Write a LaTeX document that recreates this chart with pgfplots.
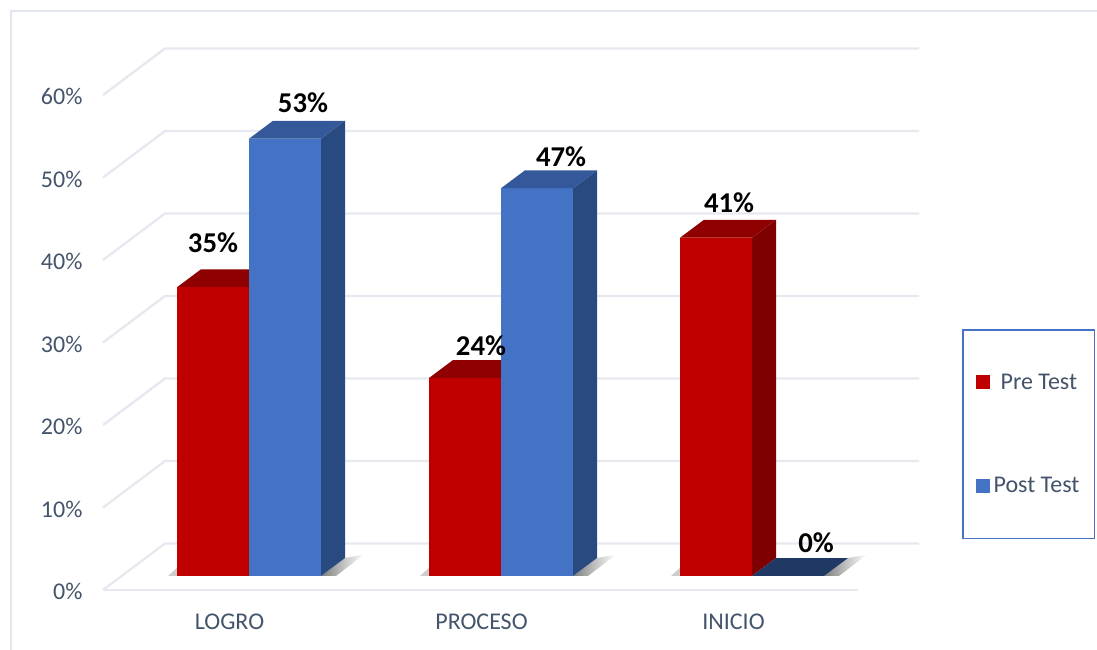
\documentclass[border=0pt]{standalone}
\usepackage{pgfplots}
\pgfplotsset{compat=1.18}
\usepackage{fontspec}
\setmainfont{Carlito}

\definecolor{txt}{HTML}{44546A}
\definecolor{wall}{HTML}{E7E9F1}
\definecolor{framec}{HTML}{E2E6EE}
\definecolor{redfront}{HTML}{C00000}
\definecolor{redtop}{HTML}{8F0000}
\definecolor{redside}{HTML}{7F0000}
\definecolor{bluefront}{HTML}{4472C4}
\definecolor{bluetop}{HTML}{35589A}
\definecolor{blueside}{HTML}{294A80}
\definecolor{bluezero}{HTML}{1F3864}

% x runs in reference pixels, y in percent (8.25 px per 1%, 0% of the bars at px 576)
\pgfplotsset{
  face/.style={draw=none, fill=#1, forget plot},
  shadow/.style={draw=none, left color=black!50, right color=white, forget plot}
}

\begin{document}
\begin{tikzpicture}[x=1pt,y=1pt]
\path[use as bounding box] (0,0) rectangle (1097,650);
\begin{axis}[
  at={(88pt,49.25pt)}, anchor=south west,
  scale only axis, width=1009pt, height=600.6pt,
  xmin=88, xmax=1097, ymin=-3, ymax=69.8,
  clip=false,
  axis line style={draw=none},
  major tick length=0pt,
  /pgf/number format/assume math mode=true,
  xtick={249,501,753},
  xticklabels={LOGRO,PROCESO,INICIO},
  ytick={0,10,20,30,40,50,60},
  yticklabels={0\%,10\%,20\%,30\%,40\%,50\%,60\%},
  tick label style={font=\fontsize{24}{28}\selectfont, text=txt},
  yticklabel style={xshift=-2pt, yshift=-15.5pt},
  xticklabel style={xshift=-19.5pt, yshift=-10pt},
  legend style={
    at={(axis cs:1028.5,17.21)}, anchor=center,
    draw=bluefront, line width=1.8pt,
    inner xsep=13pt, inner ysep=42pt,
    font=\fontsize{24}{28}\selectfont, text=txt,
    /tikz/row sep=83pt,
  },
  legend cell align=left,
]
% frame of the chart area
\addplot[framec, line width=2pt, forget plot] coordinates {(11,-8.97)(11,68.48)(1097,68.48)};

% back wall lines with their diagonals
\addplot[wall, line width=2.4pt, forget plot, unbounded coords=jump] coordinates {
  (103,-1.7)(165,3.94)(919,3.94) (nan,nan)
  (103,8.3)(165,13.94)(919,13.94) (nan,nan)
  (103,18.3)(165,23.94)(919,23.94) (nan,nan)
  (103,28.3)(165,33.94)(919,33.94) (nan,nan)
  (103,38.3)(165,43.94)(919,43.94) (nan,nan)
  (103,48.3)(165,53.94)(919,53.94) (nan,nan)
  (103,58.3)(165,63.94)(919,63.94)
};
\addplot[wall, line width=2.4pt, forget plot] coordinates {(103,-1.7)(858,-1.7)};

% floor shadows
\addplot[shadow] coordinates {(321,0)(345,2.18)(364,2.6)(336,0)} --cycle;
\addplot[shadow] coordinates {(573,0)(597,2.18)(616,2.6)(588,0)} --cycle;
\addplot[shadow] coordinates {(824,0)(848,2.18)(867,2.6)(839,0)} --cycle;
\addplot[draw=none, fill=black!20, forget plot] coordinates {(168,0)(177,1)(177,0)} --cycle;
\addplot[draw=none, fill=black!20, forget plot] coordinates {(420,0)(429,1)(429,0)} --cycle;
\addplot[draw=none, fill=black!20, forget plot] coordinates {(671,0)(680,1)(680,0)} --cycle;

% red tops and side
\addplot[face=redtop] coordinates {(177,35)(201,37.18)(273,37.18)(249,35)} --cycle;
\addplot[face=redtop] coordinates {(429,24)(453,26.18)(525,26.18)(501,24)} --cycle;
\addplot[face=redtop] coordinates {(680,41)(704,43.18)(776,43.18)(752,41)} --cycle;
\addplot[face=redside] coordinates {(752,0)(776,2.18)(776,43.18)(752,41)} --cycle;

% front faces
\addplot[ybar, bar width=72, bar shift=-36, draw=none, fill=redfront,
  area legend,
  legend image code/.code={\fill[redfront] (0pt,-7pt) rectangle (14pt,7pt);}]
  coordinates {(249,35)(501,24)(752,41)};
\addlegendentry{\hspace{9pt}Pre Test}
\addplot[ybar, bar width=72, bar shift=36, draw=none, fill=bluefront,
  area legend,
  legend image code/.code={\fill[bluefront] (0pt,-7pt) rectangle (14pt,7pt);}]
  coordinates {(249,53)(501,47)(752,0)};
\addlegendentry{\hspace{2pt}Post Test}

% blue tops and sides
\addplot[face=bluetop] coordinates {(249,53)(273,55.18)(345,55.18)(321,53)} --cycle;
\addplot[face=bluetop] coordinates {(501,47)(525,49.18)(597,49.18)(573,47)} --cycle;
\addplot[face=bluezero] coordinates {(752,0)(776,2.18)(848,2.18)(824,0)} --cycle;
\addplot[face=blueside] coordinates {(321,0)(345,2.18)(345,55.18)(321,53)} --cycle;
\addplot[face=blueside] coordinates {(573,0)(597,2.18)(597,49.18)(573,47)} --cycle;

% value labels, third column is the value shown
\addplot[draw=none, mark=none, forget plot,
  point meta=explicit,
  nodes near coords={\pgfmathprintnumber[precision=0]{\pgfplotspointmeta}\%},
  every node near coord/.append style={anchor=center, inner sep=0pt,
    font=\fontsize{28.7}{32}\selectfont\bfseries, text=black}]
  table[x=x, y=y, meta=v] {
  x   y     v
  213 40.36 35
  303 57.33 53
  481 27.88 24
  561 50.79 47
  729 45.21 41
  816 4.0   0
};
\end{axis}
\end{tikzpicture}
\end{document}
